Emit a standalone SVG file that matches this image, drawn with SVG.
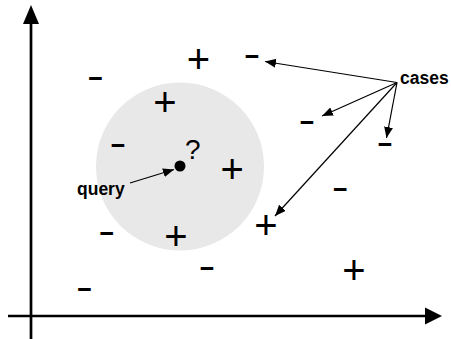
<svg xmlns="http://www.w3.org/2000/svg" width="451" height="339" viewBox="0 0 451 339">
  <style>
    .axis { stroke: #000; stroke-width: 2.7; fill: none; }
    .conn { stroke: #000; stroke-width: 1.2; fill: none; }
    .plus { font-family: "Liberation Sans", Arial, sans-serif; font-size: 40px; text-anchor: middle; fill: #000; }
    .minus { font-family: "Liberation Sans", Arial, sans-serif; font-size: 26px; font-weight: bold; text-anchor: middle; fill: #000; }
    .lbl { font-family: "Liberation Sans", Arial, sans-serif; font-size: 17.5px; font-weight: bold; fill: #000; }
    .q { font-family: "Liberation Sans", Arial, sans-serif; font-size: 28px; fill: #000; }
  </style>
  <defs>
    <marker id="ah" markerUnits="userSpaceOnUse" markerWidth="12" markerHeight="10" refX="11" refY="4.5" orient="auto">
      <path d="M0,0 L11,4.5 L0,9 Z" fill="#000"/>
    </marker>
  </defs>

  <g id="neighborhood">
    <circle cx="180" cy="166.5" r="84" fill="#e8e8e8"/>
  </g>

  <g id="axes">
    <line class="axis" x1="31" y1="339" x2="31" y2="22"/>
    <path d="M31,5 L39,24 L23,24 Z" fill="#000"/>
    <line class="axis" x1="8" y1="316" x2="426" y2="316"/>
    <path d="M442,316 L425,307.5 L425,324.5 Z" fill="#000"/>
  </g>

  <g id="connectors">
    <line class="conn" x1="397" y1="82.5" x2="265" y2="61.5" marker-end="url(#ah)"/>
    <line class="conn" x1="397" y1="82.5" x2="322" y2="116" marker-end="url(#ah)"/>
    <line class="conn" x1="397" y1="82.5" x2="386.5" y2="138" marker-end="url(#ah)"/>
    <line class="conn" x1="397" y1="82.5" x2="275" y2="216" marker-end="url(#ah)"/>
    <line class="conn" x1="130" y1="183" x2="174" y2="169.5" marker-end="url(#ah)"/>
  </g>

  <g id="query-point">
    <circle cx="180" cy="166" r="5.5" fill="#000"/>
    <text class="q" x="185" y="159">?</text>
  </g>

  <g id="label-query"><text class="lbl" x="77" y="195">query</text></g>
  <g id="label-cases"><text class="lbl" x="400" y="84">cases</text></g>

  <g id="pos-1"><text class="plus" x="198.5" y="72.5">+</text></g>
  <g id="pos-2"><text class="plus" x="165" y="116">+</text></g>
  <g id="pos-3"><text class="plus" x="232.3" y="183">+</text></g>
  <g id="pos-4"><text class="plus" x="176" y="249.5">+</text></g>
  <g id="pos-5"><text class="plus" x="266" y="238.5">+</text></g>
  <g id="pos-6"><text class="plus" x="354" y="284">+</text></g>

  <g id="neg-1"><text class="minus" transform="translate(95.5,77.7) scale(1.9,1)" y="7">-</text></g>
  <g id="neg-2"><text class="minus" transform="translate(252,56.3) scale(1.9,1)" y="7">-</text></g>
  <g id="neg-3"><text class="minus" transform="translate(118,144.5) scale(1.9,1)" y="7">-</text></g>
  <g id="neg-4"><text class="minus" transform="translate(307,122.3) scale(1.9,1)" y="7">-</text></g>
  <g id="neg-5"><text class="minus" transform="translate(385,144.3) scale(1.9,1)" y="7">-</text></g>
  <g id="neg-6"><text class="minus" transform="translate(340.3,189.3) scale(1.9,1)" y="7">-</text></g>
  <g id="neg-7"><text class="minus" transform="translate(106.7,233.3) scale(1.9,1)" y="7">-</text></g>
  <g id="neg-8"><text class="minus" transform="translate(207,267.7) scale(1.9,1)" y="7">-</text></g>
  <g id="neg-9"><text class="minus" transform="translate(84.5,289) scale(1.9,1)" y="7">-</text></g>
</svg>
